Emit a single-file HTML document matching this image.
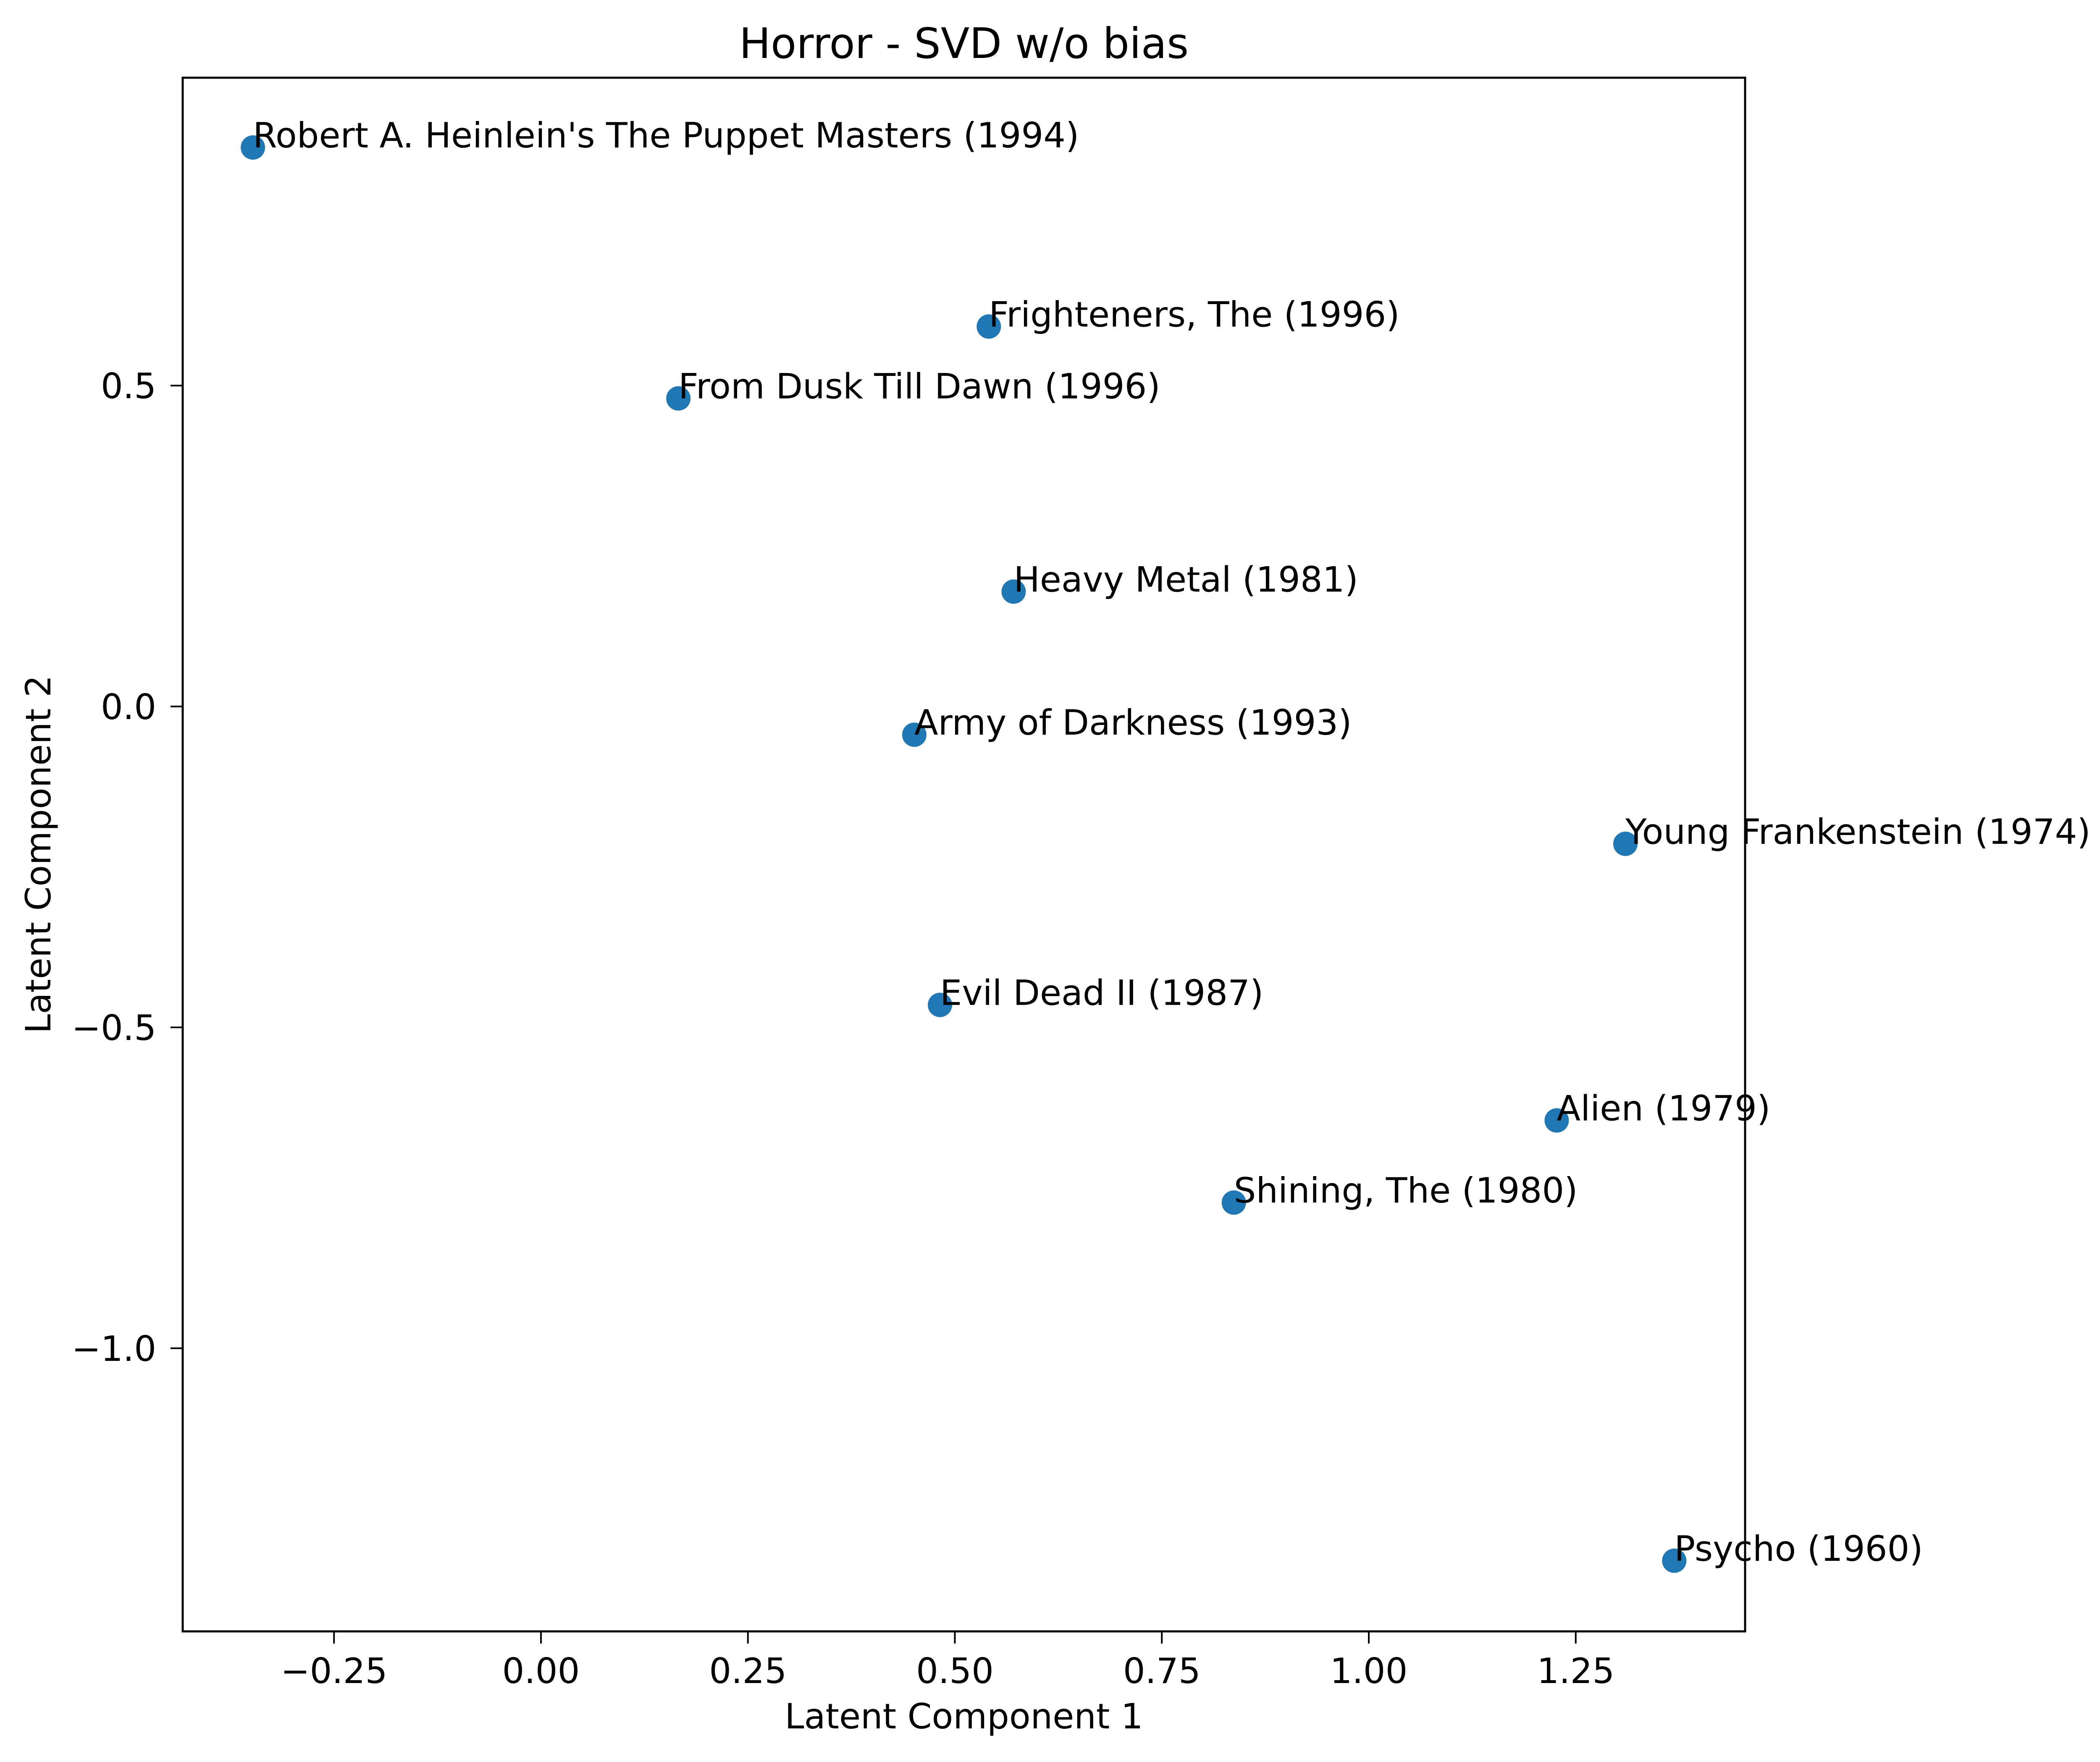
<!DOCTYPE html>
<html><head><meta charset="utf-8"><style>
html,body{margin:0;padding:0;background:#fff}
svg{display:block}
text{font-family:"DejaVu Sans","Liberation Sans",sans-serif;fill:#000}
</style></head><body>
<svg id="chart" width="5044" height="4195" viewBox="0 0 5044 4195" xmlns="http://www.w3.org/2000/svg">
<rect width="5044" height="4195" fill="#fff"/>
<text x="2295" y="138" font-size="100" text-anchor="middle">Horror - SVD w/o bias</text>
<g id="plot"></g>
<text x="2295" y="4115" font-size="83" text-anchor="middle">Latent Component 1</text>
<text x="0" y="0" font-size="83" text-anchor="middle" transform="translate(120,2034) rotate(-90)">Latent Component 2</text>
<rect x="435" y="185" width="3720" height="3699" fill="none" stroke="#000" stroke-width="5"/>
</svg>
<script>
const titles = ["Robert A. Heinlein's The Puppet Masters (1994)","Frighteners, The (1996)","From Dusk Till Dawn (1996)","Heavy Metal (1981)","Army of Darkness (1993)","Young Frankenstein (1974)","Evil Dead II (1987)","Alien (1979)","Shining, The (1980)","Psycho (1960)"];
const xVals = [-0.348,0.541,0.166,0.571,0.451,1.310,0.482,1.227,0.837,1.369];
const yVals = [0.871,0.592,0.480,0.179,-0.044,-0.214,-0.465,-0.645,-0.773,-1.331];
const xTicks = [-0.25,0,0.25,0.5,0.75,1.0,1.25];
const xTickLabels = ["\u22120.25","0.00","0.25","0.50","0.75","1.00","1.25"];
const yTicks = [0.5,0,-0.5,-1.0];
const yTickLabels = ["0.5","0.0","\u22120.5","\u22121.0"];

const NS="http://www.w3.org/2000/svg";
const X = v => 1288 + v*1971;
const Y = v => 1682 - v*1528;
const g = document.getElementById('plot');
function mk(tag, attrs, txt){const e=document.createElementNS(NS,tag);for(const k in attrs)e.setAttribute(k,attrs[k]);if(txt!==undefined)e.textContent=txt;g.appendChild(e);return e;}
xTicks.forEach((t,i)=>{
  const l=mk('line',{x1:X(t),x2:X(t),y1:3884,y2:3913,stroke:'#000','stroke-width':4});
  
  
  const tx=mk('text',{x:X(t),y:4007,'font-size':83,'text-anchor':'middle'},xTickLabels[i]);
  
  
});
yTicks.forEach((t,i)=>{
  const l=mk('line',{x1:406,x2:435,y1:Y(t),y2:Y(t),stroke:'#000','stroke-width':4});
  
  
  const tx=mk('text',{x:372,y:Y(t)+30,'font-size':83,'text-anchor':'end'},yTickLabels[i]);
  
  
});
titles.forEach((n,i)=>{
  const c=mk('circle',{cx:X(xVals[i]),cy:Y(yVals[i]),r:29,fill:'#1f77b4'});
  
  
  const tx=mk('text',{x:X(xVals[i]),y:Y(yVals[i]),'font-size':83},n);
  
  
});
</script>
</body></html>
